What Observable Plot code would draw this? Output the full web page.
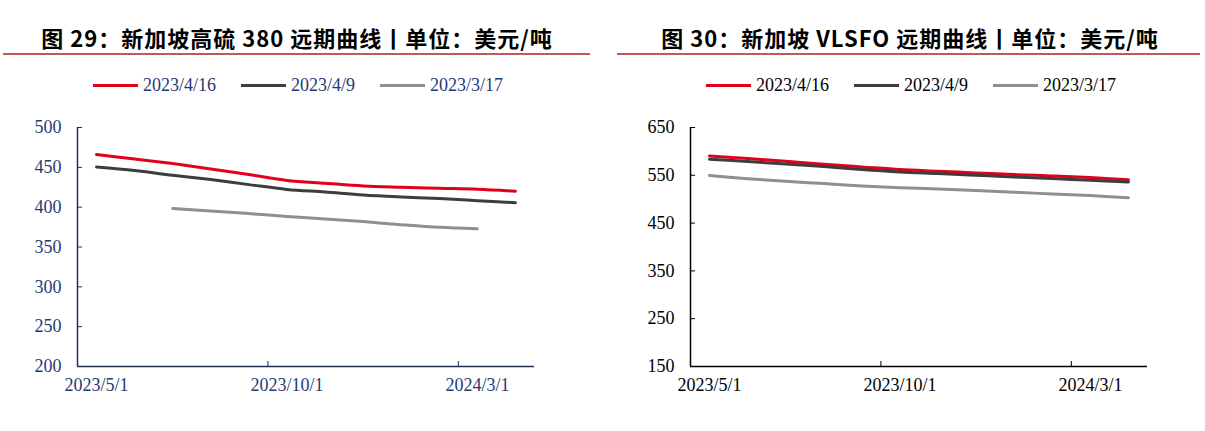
<!DOCTYPE html>
<html><head><meta charset="utf-8">
<script src="https://cdn.jsdelivr.net/npm/d3@7"></script>
<script src="https://cdn.jsdelivr.net/npm/@observablehq/plot@0.6"></script>
<style>
body{margin:0;background:#fff;width:1205px;height:431px;overflow:hidden;position:relative;}
.title{position:absolute;top:22px;font:bold 22px "Noto Sans CJK SC";letter-spacing:1px;white-space:nowrap;transform:translateX(-50%);line-height:30px;color:#000;}
.rule{position:absolute;top:53px;height:2px;background:#be5a5a;}
.legend{position:absolute;top:73px;display:flex;align-items:center;font:18px "Liberation Serif";line-height:24px;white-space:nowrap;}
.sw{width:45px;height:3px;margin-right:5px}
.item{display:flex;align-items:center;margin-right:25px}
.plotbox{position:absolute;top:110px;}
</style></head>
<body>
<script>
const months = ["2023/5/1","2023/6/1","2023/7/1","2023/8/1","2023/9/1","2023/10/1","2023/11/1","2023/12/1","2024/1/1","2024/2/1","2024/3/1","2024/4/1"];
const series = ["2023/4/16","2023/4/9","2023/3/17"];
const colors = ["#e3001b","#3d3d3d","#8f8f8f"];
const xTickLabels = ["2023/5/1","2023/10/1","2024/3/1"];

// 新加坡高硫380
const hsfo_0416 = [466,460.5,454.7,448,441,433.6,430,426.6,425,423.7,422.5,420];
const hsfo_0409 = [450.5,446,440,434.6,428.3,422.3,419,415.3,412.8,410.8,408.2,405.5];
const hsfo_0317 = [null,null,398.2,395.2,391.9,388.3,385.2,381.9,378,374.7,373,null];
const hsfoTicks = [200,250,300,350,400,450,500];

// 新加坡VLSFO
const vlsfo_0416 = [590.5,585,579.4,573,567.5,562,558.5,555,551.5,548.6,545.3,540.5];
const vlsfo_0409 = [583.6,578.8,573.8,568.3,562,557,553.6,550,546.5,543.2,539.6,536];
const vlsfo_0317 = [549.4,543,537.5,532.6,527.7,524,521.4,518,514.5,511,507.6,503];
const vlsfoTicks = [150,250,350,450,550,650];

const titles = ["图 29：新加坡高硫 380 远期曲线丨单位：美元/吨", "图 30：新加坡 VLSFO 远期曲线丨单位：美元/吨"];

function chart({vals, ticks, axisColor, textColor, width, ml, mr}) {
  const data = [];
  series.forEach((s, k) => vals[k].forEach((v, i) => { if (v != null) data.push({s, x: i + 0.5, v}); }));
  const tickIdx = xTickLabels.map(l => months.indexOf(l));
  const domain = [ticks[0], ticks[ticks.length - 1]];
  return Plot.plot({
    width, height: 321, marginLeft: ml, marginRight: mr, marginTop: 17, marginBottom: 65,
    x: {domain: [0, months.length], label: null},
    y: {domain, label: null},
    color: {domain: series, range: colors},
    style: {fontFamily: "Liberation Serif", fontSize: "18px", background: "transparent", overflow: "visible"},
    marks: [
      Plot.axisY({ticks, tickSize: 0, tickPadding: 16, label: null, color: textColor, tickFormat: d => String(d)}),
      Plot.axisY({ticks, tickSize: -5, label: null, color: axisColor, tickFormat: () => ""}),
      Plot.axisX({ticks: tickIdx.map(i => i + 0.5), tickSize: 0, tickPadding: 12, label: null, color: textColor, tickFormat: d => months[Math.round(d - 0.5)]}),
      Plot.axisX({ticks: tickIdx.filter(i => i > 0), tickSize: -5, label: null, color: axisColor, tickFormat: () => ""}),
      Plot.ruleX([0], {stroke: axisColor, strokeWidth: 1.5}),
      Plot.ruleY([domain[0]], {stroke: axisColor, strokeWidth: 1.5}),
      Plot.line(data, {x: "x", y: "v", z: "s", stroke: "s", strokeWidth: 3, curve: "catmull-rom"})
    ]
  });
}

function panel({left, width, title, titleX, ruleL, ruleR, legendX, legendColor, plot}) {
  const t = document.createElement("div");
  t.className = "title"; t.style.left = titleX + "px"; t.textContent = title;
  document.body.appendChild(t);
  const r = document.createElement("div");
  r.className = "rule"; r.style.left = ruleL + "px"; r.style.width = (ruleR - ruleL) + "px";
  document.body.appendChild(r);
  const lg = document.createElement("div");
  lg.className = "legend"; lg.style.left = legendX + "px"; lg.style.color = legendColor;
  series.forEach((s, k) => {
    const it = document.createElement("div"); it.className = "item";
    const sw = document.createElement("div"); sw.className = "sw"; sw.style.background = colors[k];
    const tx = document.createElement("span"); tx.textContent = s;
    it.appendChild(sw); it.appendChild(tx); lg.appendChild(it);
  });
  document.body.appendChild(lg);
  const box = document.createElement("div");
  box.className = "plotbox"; box.style.left = left + "px"; box.style.width = width + "px";
  box.appendChild(plot);
  document.body.appendChild(box);
}

panel({left: 0, width: 600, title: titles[0], titleX: 297, ruleL: 3, ruleR: 590, legendX: 93, legendColor: "#1f3a78",
  plot: chart({vals: [hsfo_0416, hsfo_0409, hsfo_0317], ticks: hsfoTicks, axisColor: "#1f2f55", textColor: "#1f3a78", width: 600, ml: 77, mr: 66})});
panel({left: 600, width: 605, title: titles[1], titleX: 910, ruleL: 617, ruleR: 1200, legendX: 706, legendColor: "#000",
  plot: chart({vals: [vlsfo_0416, vlsfo_0409, vlsfo_0317], ticks: vlsfoTicks, axisColor: "#000", textColor: "#000", width: 605, ml: 90, mr: 58})});
</script>
</body></html>
